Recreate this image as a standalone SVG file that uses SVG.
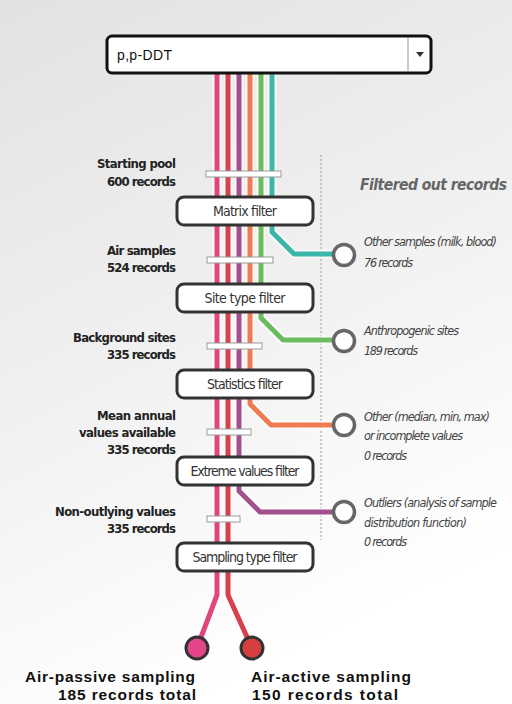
<svg xmlns="http://www.w3.org/2000/svg" width="512" height="704" viewBox="0 0 512 704">
<defs>
<linearGradient id="bg" x1="0" y1="0" x2="0.35" y2="1">
<stop offset="0" stop-color="#e2e2e2"/>
<stop offset="0.55" stop-color="#f1f1f1"/>
<stop offset="1" stop-color="#ffffff"/>
</linearGradient>
<style>
.lbl{font-family:"Liberation Sans Narrow","DejaVu Sans Condensed","Liberation Sans",sans-serif;font-weight:bold;font-size:13px;fill:#222;text-anchor:end}
.fbox{fill:#fff;stroke:#333;stroke-width:3}
.ftxt{font-family:"Liberation Sans Narrow","DejaVu Sans Condensed","Liberation Sans",sans-serif;font-size:14px;fill:#333;text-anchor:middle}
.bar{fill:#fff;stroke:#999;stroke-width:1}
.out{fill:#fff;stroke:#666;stroke-width:3.5}
.otxt{font-family:"Liberation Sans Narrow","DejaVu Sans Condensed","Liberation Sans",sans-serif;font-style:italic;font-size:12.5px;fill:#444}
.halo{fill:none;stroke:#fff;stroke-width:9;stroke-opacity:0.7;stroke-linejoin:round}
.ln{fill:none;stroke-width:5;stroke-linejoin:round}
.end{stroke:#333;stroke-width:3}
.etxt{font-family:"Liberation Sans",sans-serif;font-weight:bold;font-size:15.5px;fill:#111}
</style>
</defs>
<rect x="0" y="0" width="512" height="704" fill="url(#bg)"/>
<line x1="321" y1="155" x2="321" y2="540" stroke="#aaa" stroke-width="1.2" stroke-dasharray="2,2"/>

<g id="connectors">
<path class="halo" d="M217 74 V595 L197 648"/>
<path class="halo" d="M228 74 V595 L252 648"/>
<path class="halo" d="M239 74 V491 L260 512 H334"/>
<path class="halo" d="M250 74 V404 L271 425 H334"/>
<path class="halo" d="M261 74 V318 L283 340 H334"/>
<path class="halo" d="M272 74 V232 L294 254 H334"/>
<path class="ln" stroke="#e0457f" d="M217 74 V595 L197 648"/>
<path class="ln" stroke="#d8414b" d="M228 74 V595 L252 648"/>
<path class="ln" stroke="#a2508b" d="M239 74 V491 L260 512 H334"/>
<path class="ln" stroke="#ee7b52" d="M250 74 V404 L271 425 H334"/>
<path class="ln" stroke="#6bbb5f" d="M261 74 V318 L283 340 H334"/>
<path class="ln" stroke="#3cb6a9" d="M272 74 V232 L294 254 H334"/>
</g>

<g id="dropdown">
<rect x="107" y="36" width="324" height="37" rx="5" fill="#fff" stroke="#111" stroke-width="3"/>
<line x1="408" y1="38" x2="408" y2="71" stroke="#999" stroke-width="1"/>
<path d="M416 52 H424 L420 57 Z" fill="#333"/>
<text x="117" y="60" font-family="Liberation Sans, sans-serif" font-size="14" fill="#111" textLength="55">p,p-DDT</text>
</g>

<g id="stop-starting-pool">
<rect class="bar" x="206" y="171" width="75" height="6"/>
<text class="lbl" x="176" y="168" textLength="79">Starting pool</text>
<text class="lbl" x="176" y="186" textLength="69">600 records</text>
</g>
<g id="filter-matrix">
<rect class="fbox" x="177" y="197" width="136" height="28" rx="7"/>
<text class="ftxt" x="245" y="216" textLength="64">Matrix filter</text>
</g>
<g id="stop-air-samples">
<rect class="bar" x="207" y="257" width="66" height="6"/>
<text class="lbl" x="176" y="255" textLength="69">Air samples</text>
<text class="lbl" x="176" y="272" textLength="69">524 records</text>
</g>
<g id="filter-site-type">
<rect class="fbox" x="177" y="284" width="136" height="28" rx="7"/>
<text class="ftxt" x="245" y="303" textLength="81">Site type filter</text>
</g>
<g id="stop-background">
<rect class="bar" x="207" y="343" width="55" height="6"/>
<text class="lbl" x="176" y="342" textLength="103">Background sites</text>
<text class="lbl" x="176" y="359" textLength="69">335 records</text>
</g>
<g id="filter-statistics">
<rect class="fbox" x="177" y="370" width="136" height="28" rx="7"/>
<text class="ftxt" x="245" y="389" textLength="76">Statistics filter</text>
</g>
<g id="stop-mean-annual">
<rect class="bar" x="207" y="429" width="44" height="6"/>
<text class="lbl" x="176" y="420" textLength="79">Mean annual</text>
<text class="lbl" x="176" y="437" textLength="97">values available</text>
<text class="lbl" x="176" y="454" textLength="69">335 records</text>
</g>
<g id="filter-extreme">
<rect class="fbox" x="177" y="457" width="136" height="28" rx="7"/>
<text class="ftxt" x="245" y="476" textLength="109">Extreme values filter</text>
</g>
<g id="stop-non-outlying">
<rect class="bar" x="207" y="516" width="33" height="6"/>
<text class="lbl" x="176" y="516" textLength="121">Non-outlying values</text>
<text class="lbl" x="176" y="533" textLength="69">335 records</text>
</g>
<g id="filter-sampling">
<rect class="fbox" x="177" y="543" width="136" height="28" rx="7"/>
<text class="ftxt" x="245" y="562" textLength="105">Sampling type filter</text>
</g>

<text x="360" y="190" font-family="Liberation Sans Narrow, DejaVu Sans Condensed, Liberation Sans, sans-serif" font-weight="bold" font-style="italic" font-size="15.5" fill="#666" textLength="147">Filtered out records</text>

<g id="out-other-samples">
<circle class="out" cx="344" cy="255" r="10.5"/>
<text class="otxt" x="364" y="246" textLength="133">Other samples (milk, blood)</text>
<text class="otxt" x="364" y="267" textLength="49">76 records</text>
</g>
<g id="out-anthropogenic">
<circle class="out" cx="344" cy="341" r="10.5"/>
<text class="otxt" x="364" y="335" textLength="95">Anthropogenic sites</text>
<text class="otxt" x="364" y="355" textLength="54">189 records</text>
</g>
<g id="out-other-values">
<circle class="out" cx="344" cy="425" r="10.5"/>
<text class="otxt" x="364" y="421" textLength="126">Other (median, min, max)</text>
<text class="otxt" x="364" y="440" textLength="99">or incomplete values</text>
<text class="otxt" x="364" y="460" textLength="43">0 records</text>
</g>
<g id="out-outliers">
<circle class="out" cx="344" cy="512" r="10.5"/>
<text class="otxt" x="364" y="507" textLength="133">Outliers (analysis of sample</text>
<text class="otxt" x="364" y="527" textLength="103">distribution function)</text>
<text class="otxt" x="364" y="546" textLength="43">0 records</text>
</g>

<g id="end-air-passive">
<circle class="end" cx="197" cy="648" r="11" fill="#e5468a"/>
<text class="etxt" x="25" y="682" textLength="170">Air-passive sampling</text>
<text class="etxt" x="196" y="700" text-anchor="end" textLength="138">185 records total</text>
</g>
<g id="end-air-active">
<circle class="end" cx="252" cy="648" r="11" fill="#d63f42"/>
<text class="etxt" x="251" y="682" textLength="160">Air-active sampling</text>
<text class="etxt" x="252" y="700" textLength="146">150 records total</text>
</g>
</svg>
